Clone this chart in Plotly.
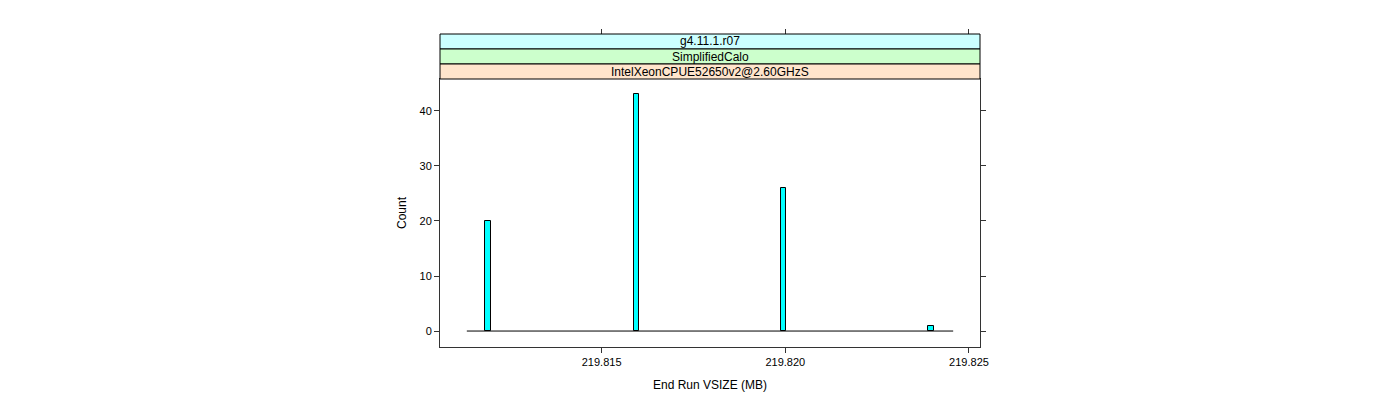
import plotly.graph_objects as go

# ---- data ----
bin_centers = [219.81190, 219.81595, 219.81995, 219.82397]
counts = [20, 43, 26, 1]
bin_width = 0.000150
hist_range = [219.81133, 219.82457]
x_ticks = [219.815, 219.820, 219.825]
x_tick_labels = ["219.815", "219.820", "219.825"]
y_ticks = [0, 10, 20, 30, 40]
strip_labels = ["g4.11.1.r07", "SimplifiedCalo", "IntelXeonCPUE52650v2@2.60GHzS"]
strip_colors = ["#CCFFFF", "#CCFFCC", "#FFE5CC"]

x_range = [219.81060, 219.82530]
y_range = [-2.9, 45.8]

W, H = 1400, 400
L, R, T, B = 440, 420, 34, 53
plot_h = H - T - B          # 313
panel_h = 268
strip_h = 15
dom_top = panel_h / plot_h

font = dict(family="Liberation Sans, Arial, sans-serif", size=11, color="black")
font12 = dict(family="Liberation Sans, Arial, sans-serif", size=12, color="black")

fig = go.Figure()
fig.add_trace(go.Scatter(x=hist_range, y=[0, 0], mode="lines",
                         line=dict(color="black", width=1), hoverinfo="skip",
                         showlegend=False))
fig.add_trace(go.Bar(x=bin_centers, y=counts, width=bin_width,
                     marker=dict(color="#00FFFF", line=dict(color="black", width=1)),
                     showlegend=False))
# invisible trace for top axis ticks
fig.add_trace(go.Scatter(x=x_range, y=[None, None], xaxis="x2", yaxis="y",
                         showlegend=False, hoverinfo="skip"))

shapes = []
annotations = []
for i, (lab, col) in enumerate(zip(strip_labels, strip_colors)):
    y1 = 1 - i * strip_h / plot_h
    y0 = 1 - (i + 1) * strip_h / plot_h
    shapes.append(dict(type="rect", xref="paper", yref="paper", x0=0, x1=1, y0=y0, y1=y1,
                       fillcolor=col, line=dict(color="black", width=1), layer="above"))
    annotations.append(dict(text=lab, xref="paper", yref="paper", x=0.5, y=(y0 + y1) / 2,
                            showarrow=False, font=font12, xanchor="center", yanchor="middle"))

fig.update_layout(
    width=W, height=H,
    margin=dict(l=L, r=R, t=T, b=B, autoexpand=False),
    paper_bgcolor="white", plot_bgcolor="white",
    font=font,
    bargap=0,
    shapes=shapes,
    annotations=annotations,
    xaxis=dict(range=x_range, tickvals=x_ticks, ticktext=x_tick_labels, automargin=False,
               ticks="outside", ticklen=5, tickcolor="#333", showline=True,
               linecolor="#333", linewidth=1, mirror=True, showgrid=False, zeroline=False,
               title=dict(text="End Run VSIZE (MB)", font=font12, standoff=13)),
    xaxis2=dict(range=x_range, tickvals=x_ticks, showticklabels=False, overlaying="x",
                side="top", anchor="free", position=1, ticks="outside", ticklen=5,
                tickcolor="#333", showline=False, showgrid=False, zeroline=False,
                automargin=False),
    yaxis=dict(range=y_range, domain=[0, dom_top], tickvals=y_ticks, ticks="outside",
               ticklen=5, tickcolor="#333", showline=True, linecolor="#333", linewidth=1,
               mirror="ticks", showgrid=False, zeroline=False, automargin=False,
               title=dict(text="Count", font=font12, standoff=10)),
)

fig.write_html("out.html")
